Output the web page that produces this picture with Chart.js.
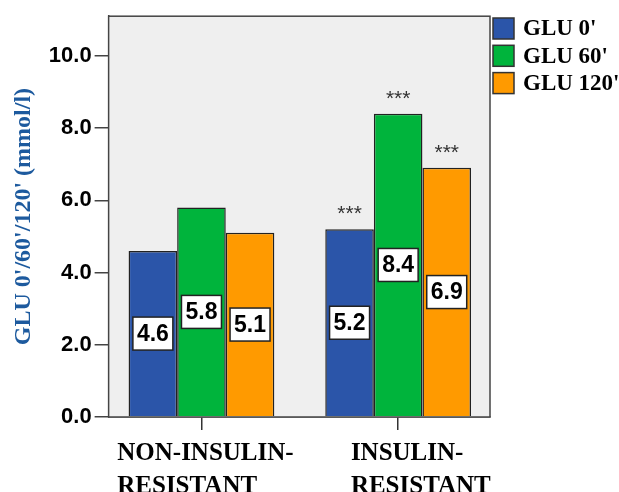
<!DOCTYPE html>
<html>
<head>
<meta charset="utf-8">
<script src="https://cdn.jsdelivr.net/npm/chart.js@4.4.1/dist/chart.umd.min.js"></script>
<style>
html, body { margin: 0; padding: 0; background: #fff; overflow: hidden; }
#wrap { width: 619px; height: 492px; }
</style>
</head>
<body>
<div id="wrap"><canvas id="chart"></canvas></div>
<script>
// groups on the x axis (two-line labels)
const groups = [['NON-INSULIN-', 'RESISTANT'], ['INSULIN-', 'RESISTANT']];
const seriesNames = ["GLU 0'", "GLU 60'", "GLU 120'"];
const glu0 = [4.6, 5.2];
const glu60 = [5.8, 8.4];
const glu120 = [5.1, 6.9];
// significance marks per series, per group
const stars = [['', '***'], ['', '***'], ['', '***']];
const yTicks = [0, 2, 4, 6, 8, 10];
const yMax = 11.1;
// x range in group-index units (the groups sit a bit wider apart than a plain category axis)
const xMin = -0.472;
const xMax = 1.467;

const colors = ['#2b55a9', '#00b43c', '#ff9a00'];
const serif = "'Liberation Serif', 'Times New Roman', serif";
const sans = "'Liberation Sans', Arial, sans-serif";

// grey plot background + frame round the chart area
const plotFrame = {
    id: 'plotFrame',
    beforeDatasetsDraw(chart) {
        const { ctx, chartArea: a } = chart;
        ctx.save();
        ctx.fillStyle = '#efefef';
        ctx.fillRect(a.left, a.top, a.right - a.left, a.bottom - a.top);
        ctx.restore();
    },
    afterDraw(chart) {
        const { ctx, chartArea: a } = chart;
        ctx.save();
        ctx.strokeStyle = '#444';
        ctx.lineWidth = 1.5;
        ctx.strokeRect(a.left, a.top, a.right - a.left, a.bottom - a.top);
        ctx.restore();
    }
};

// white value boxes in the middle of each bar, stars above
const valueBoxes = {
    id: 'valueBoxes',
    afterDatasetsDraw(chart) {
        const { ctx } = chart;
        ctx.save();
        ctx.textAlign = 'center';
        chart.data.datasets.forEach((ds, i) => {
            chart.getDatasetMeta(i).data.forEach((bar, j) => {
                const txt = ds.data[j].y.toFixed(1);
                const cy = (bar.y + bar.base) / 2;
                ctx.font = 'bold 23px ' + sans;
                ctx.textBaseline = 'middle';
                const w = ctx.measureText(txt).width + 8;
                const h = 33;
                ctx.fillStyle = '#fff';
                ctx.fillRect(bar.x - w / 2, cy - h / 2, w, h);
                ctx.strokeStyle = '#222';
                ctx.lineWidth = 1.5;
                ctx.strokeRect(bar.x - w / 2, cy - h / 2, w, h);
                ctx.fillStyle = '#000';
                ctx.fillText(txt, bar.x, cy + 1);

                const s = stars[i][j];
                if (s) {
                    ctx.font = '21px ' + sans;
                    ctx.textBaseline = 'alphabetic';
                    ctx.fillStyle = '#333';
                    ctx.fillText(s, bar.x, bar.y - 9);
                }
            });
        });
        ctx.restore();
    }
};

// category labels: first line roughly centred on the tick, second line
// left-aligned under it (as in the original figure)
const groupLabels = {
    id: 'groupLabels',
    afterDraw(chart) {
        const { ctx, chartArea: a } = chart;
        const xs = chart.scales.x;
        const shift = [4, 9];
        ctx.save();
        ctx.font = 'bold 25px ' + serif;
        ctx.fillStyle = '#000';
        ctx.textAlign = 'left';
        ctx.textBaseline = 'alphabetic';
        groups.forEach((lines, i) => {
            const x = xs.getPixelForValue(i);
            const left = x + shift[i] - ctx.measureText(lines[0]).width / 2;
            lines.forEach((t, k) => ctx.fillText(t, left, a.bottom + 43 + k * 33));
        });
        ctx.restore();
    }
};

// legend to the right of the plot, top aligned
const sideLegend = {
    id: 'sideLegend',
    afterDraw(chart) {
        const { ctx, chartArea: a } = chart;
        ctx.save();
        ctx.font = 'bold 23px ' + serif;
        ctx.textBaseline = 'middle';
        ctx.textAlign = 'left';
        chart.data.datasets.forEach((ds, i) => {
            const x = a.right + 3;
            const y = 18 + i * 27.3;
            ctx.fillStyle = ds.backgroundColor;
            ctx.fillRect(x, y, 21, 21);
            ctx.strokeStyle = '#333';
            ctx.lineWidth = 1.5;
            ctx.strokeRect(x, y, 21, 21);
            ctx.fillStyle = '#000';
            ctx.fillText(ds.label, x + 30, y + 11.5);
        });
        ctx.restore();
    }
};

new Chart(document.getElementById('chart'), {
    type: 'bar',
    data: {
        datasets: [glu0, glu60, glu120].map((d, i) => ({
            label: seriesNames[i],
            data: d.map((v, j) => ({ x: j, y: v })),
            backgroundColor: colors[i],
            borderColor: '#222',
            borderWidth: 1.5,
            barPercentage: 1,
            categoryPercentage: 0.741
        }))
    },
    options: {
        animation: false,
        responsive: true,
        maintainAspectRatio: false,
        layout: { padding: { top: 15, left: 9, right: 129, bottom: 62 } },
        plugins: {
            tooltip: { enabled: false },
            legend: { display: false }
        },
        scales: {
            x: {
                type: 'linear',
                min: xMin,
                max: xMax,
                offset: false,
                afterBuildTicks(scale) {
                    scale.ticks = groups.map((g, i) => ({ value: i }));
                },
                grid: { drawOnChartArea: false, drawTicks: true, tickLength: 13, color: '#333', lineWidth: 1.5, offset: false },
                border: { display: true, color: '#444', width: 1.5 },
                ticks: { display: false }
            },
            y: {
                min: 0,
                max: yMax,
                afterBuildTicks(scale) {
                    scale.ticks = yTicks.map(v => ({ value: v }));
                },
                grid: { drawOnChartArea: false, drawTicks: true, tickLength: 14, color: '#444', lineWidth: 1.5 },
                border: { display: true, color: '#444', width: 1.5 },
                ticks: {
                    color: '#000',
                    padding: 3,
                    font: { family: sans, size: 22, weight: 'bold' },
                    callback: v => v.toFixed(1)
                },
                title: {
                    display: true,
                    text: "GLU 0'/60'/120' (mmol/l)",
                    color: '#1d5a9e',
                    font: { family: serif, size: 24, weight: 'bold' },
                    padding: { top: 0, bottom: 8 }
                }
            }
        }
    },
    plugins: [plotFrame, valueBoxes, groupLabels, sideLegend]
});
</script>
</body>
</html>
